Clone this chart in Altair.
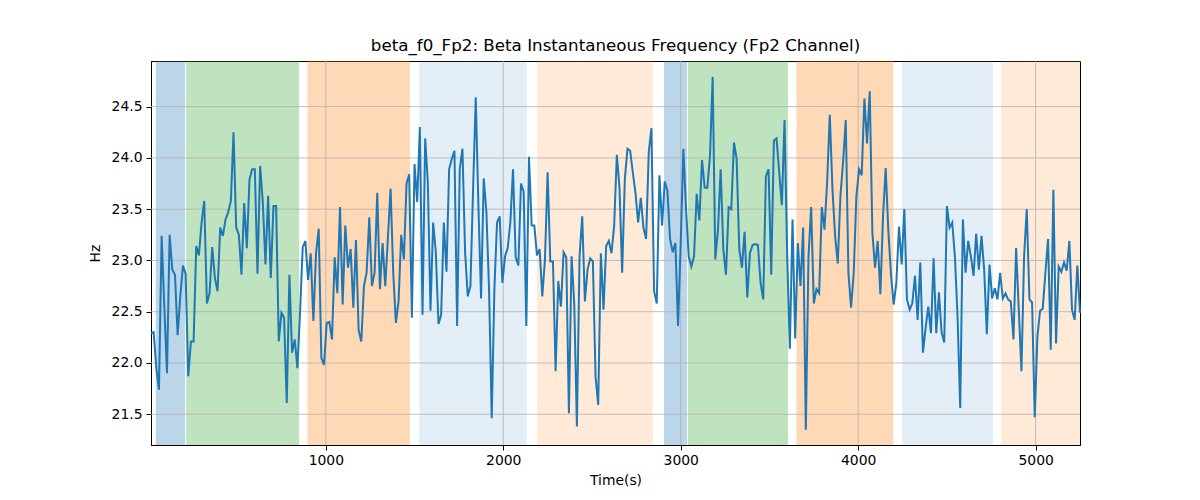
import altair as alt
import pandas as pd

# ---- data ----
T0 = 15
STEP = 15
hz = [
    # segment 1
    22.29, 22.30, 21.95, 21.74, 23.24, 22.55, 21.90, 23.25, 22.91, 22.86, 22.27, 22.65, 22.95, 22.87,
    21.87, 22.21, 22.21, 23.14, 23.05, 23.37, 23.58, 22.58, 22.68, 23.13, 22.83, 22.70, 23.32, 23.24,
    23.40, 23.47, 23.58, 24.25, 23.32, 23.25, 22.86, 23.56, 23.12, 23.79, 23.89, 23.89, 22.87, 23.92,
    23.57, 22.96,
    # segment 2
    23.63, 22.83, 23.53, 23.53, 22.21, 22.49, 22.44, 21.61, 22.86, 22.10, 22.23, 21.95, 22.50, 23.13,
    23.19, 22.81, 23.07, 22.41, 23.07, 23.31, 22.05, 21.98, 22.39, 22.40, 22.23, 23.03, 22.68, 23.52,
    22.57, 23.34, 22.93, 23.11, 22.54, 23.20, 22.32, 22.21, 22.75, 22.88, 23.42, 22.75, 22.88, 23.66,
    22.72,
    # segment 3
    23.17, 22.75, 23.22, 23.70, 22.88, 22.39, 22.60, 23.25, 23.01, 23.75, 23.84, 22.44, 23.94, 23.57,
    24.30, 22.47, 24.19, 23.76, 22.51, 23.37, 23.08, 22.38, 22.47, 23.37, 22.89, 23.89, 23.99, 24.07,
    22.36, 23.89, 24.09, 23.08, 22.65, 22.75, 23.70, 24.59, 23.53, 22.63, 23.80, 23.47, 22.72, 21.46,
    22.72,
    # segment 4
    23.37, 23.43, 22.78, 23.04, 23.12, 23.37, 23.89, 23.03, 22.95, 23.75, 23.67, 22.36, 24.01, 23.34,
    23.34, 23.05, 23.11, 22.65, 23.01, 23.86, 22.99, 22.99, 21.92, 22.80, 22.55, 23.08, 23.03, 21.51,
    23.04, 22.58, 21.38, 23.04, 23.43, 22.60, 22.91, 23.02, 22.99, 21.87, 21.59, 23.07, 22.52, 23.14,
    23.19,
    # segment 5
    23.07, 23.34, 24.03, 23.71, 22.88, 23.79, 24.09, 24.07, 23.86, 23.66, 23.37, 23.61, 23.32, 23.21,
    24.06, 24.29, 22.70, 22.58, 23.83, 23.34, 23.77, 23.68, 23.21, 23.08, 23.17, 22.36, 23.17, 24.09,
    23.50, 23.04, 22.94, 23.04, 23.65, 23.39, 23.98, 23.71, 23.71, 24.02, 24.79, 23.01, 23.30, 23.89,
    23.11,
    # segment 6
    22.86, 23.52, 23.50, 24.15, 23.99, 23.11, 22.93, 23.28, 22.64, 23.07, 23.15, 23.16, 23.15, 22.78,
    22.62, 23.82, 23.89, 22.86, 24.17, 24.19, 23.86, 23.54, 24.37, 23.04, 22.14, 23.40, 22.24, 23.17,
    22.75, 23.32, 21.35, 23.04, 23.52, 22.58, 22.72, 22.68, 23.52, 23.30, 23.76, 24.42, 23.70, 23.24,
    22.97, 23.63,
    # segment 7
    23.96, 24.37, 22.88, 22.54, 22.88, 23.63, 23.89, 23.83, 24.58, 24.14, 24.65, 23.27, 22.93, 23.19,
    22.67, 23.43, 23.90, 23.29, 22.86, 22.57, 22.78, 23.33, 22.96, 23.50, 22.62, 22.52, 22.58, 22.85,
    22.42, 22.98, 22.10, 22.34, 22.55, 22.29, 23.02, 22.29, 22.69, 22.30, 22.20, 23.53, 23.32, 23.37,
    23.04,
    # segment 8
    22.45, 21.56, 23.40, 22.88, 23.19, 23.04, 22.85, 23.26, 22.91, 23.24, 22.91, 22.28, 22.96, 22.63,
    22.73, 22.62, 22.88, 22.63, 22.68, 22.62, 22.60, 22.23, 23.12, 22.52, 21.92, 23.04, 23.50, 22.62,
    22.59, 21.47, 22.26, 22.51, 22.53, 22.88, 23.21, 22.13, 23.69, 22.19, 22.94, 22.89, 22.98, 22.90,
    23.19, 22.52, 22.42, 22.95, 22.49,
]
time_s = [T0 + STEP * i for i in range(len(hz))]

span_start = [42, 213, 897, 1527, 2190, 2906, 3041, 3652, 4248, 4805]
span_end = [207, 850, 1474, 2132, 2843, 3036, 3605, 4198, 4760, 5250]
span_color = ["#1f77b4", "#2ca02c", "#ff7f0e", "#1f77b4", "#ff7f0e",
              "#1f77b4", "#2ca02c", "#ff7f0e", "#1f77b4", "#ff7f0e"]
span_alpha = [0.3, 0.3, 0.3, 0.12, 0.16, 0.3, 0.3, 0.3, 0.12, 0.16]

x_ticks = [1000, 2000, 3000, 4000, 5000]
y_ticks = [21.5, 22.0, 22.5, 23.0, 23.5, 24.0, 24.5]

X_DOMAIN = [15, 5250]
Y_DOMAIN = [21.20, 24.945]
W, H = 929, 384
FONT = "DejaVu Sans"

line_df = pd.DataFrame({"t": time_s, "hz": hz})
span_df = pd.DataFrame({"start": span_start, "end": span_end,
                        "color": span_color, "alpha": span_alpha})
xgrid_df = pd.DataFrame({"t": x_ticks})
ygrid_df = pd.DataFrame({"hz": y_ticks})

xscale = alt.Scale(domain=X_DOMAIN, nice=False, zero=False)
yscale = alt.Scale(domain=Y_DOMAIN, nice=False, zero=False)

xaxis = alt.Axis(values=x_ticks, format="d", title="Time(s)", grid=False,
                 tickSize=5, labelPadding=3, titlePadding=7)
yaxis = alt.Axis(values=y_ticks, format=".1f", title="Hz", grid=False,
                 tickSize=5, labelPadding=4, titlePadding=9)

spans = alt.Chart(span_df).mark_rect(strokeWidth=0).encode(
    x=alt.X("start:Q", scale=xscale, axis=xaxis),
    x2="end:Q",
    y=alt.value(0),
    y2=alt.value(H),
    color=alt.Color("color:N", scale=None),
    opacity=alt.Opacity("alpha:Q", scale=None),
)

xgrid = alt.Chart(xgrid_df).mark_rule(color="#b0b0b0", strokeWidth=0.8).encode(
    x=alt.X("t:Q", scale=xscale, axis=xaxis),
    y=alt.value(0),
    y2=alt.value(H),
)

ygrid = alt.Chart(ygrid_df).mark_rule(color="#b0b0b0", strokeWidth=0.8).encode(
    y=alt.Y("hz:Q", scale=yscale, axis=yaxis),
    x=alt.value(0),
    x2=alt.value(W),
)

line = alt.Chart(line_df).mark_line(color="#1f77b4", strokeWidth=2).encode(
    x=alt.X("t:Q", scale=xscale, axis=xaxis),
    y=alt.Y("hz:Q", scale=yscale, axis=yaxis),
)

chart = alt.layer(spans, xgrid, ygrid, line).properties(
    width=W,
    height=H,
    autosize=alt.AutoSizeParams(type="none"),
    padding={"left": 143, "top": 53, "right": 112, "bottom": 47},
    title=alt.TitleParams(
        "beta_f0_Fp2: Beta Instantaneous Frequency (Fp2 Channel)",
        font=FONT, fontSize=16.7, fontWeight="normal", color="black",
        anchor="middle", frame="group", offset=6,
    ),
).configure_view(
    stroke="black", strokeWidth=1
).configure_axis(
    labelFont=FONT, titleFont=FONT, labelFontSize=13.9, titleFontSize=13.9,
    titleFontWeight="normal", labelColor="black", titleColor="black",
    domainColor="black", tickColor="black", domainWidth=1, tickWidth=1,
)

chart.save("out.html", embed_options={"renderer": "svg", "actions": False})
